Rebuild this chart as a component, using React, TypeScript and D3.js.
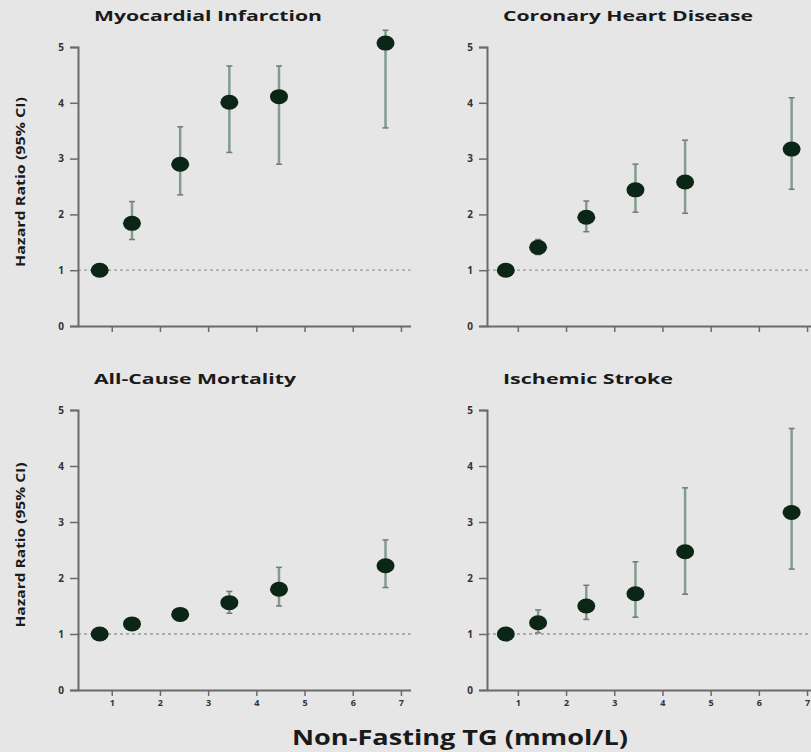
import React, { useRef, useEffect } from 'react';
import * as d3 from 'd3';

// triglyceride categories (x positions, mmol/L)
const tgLevels = [0.75, 1.42, 2.42, 3.44, 4.47, 6.68];

const miHR = [1, 1.84, 2.9, 4.01, 4.11, 5.07];
const miLow = [1, 1.55, 2.35, 3.11, 2.9, 3.55];
const miHigh = [1, 2.23, 3.57, 4.66, 4.66, 5.3];

const chdHR = [1, 1.41, 1.95, 2.44, 2.58, 3.17];
const chdLow = [1, 1.28, 1.69, 2.04, 2.02, 2.45];
const chdHigh = [1, 1.55, 2.24, 2.9, 3.33, 4.09];

const acmHR = [1, 1.18, 1.35, 1.56, 1.8, 2.22];
const acmLow = [1, 1.1, 1.25, 1.37, 1.5, 1.83];
const acmHigh = [1, 1.25, 1.45, 1.76, 2.19, 2.68];

const isHR = [1, 1.2, 1.5, 1.72, 2.47, 3.17];
const isLow = [1, 1.02, 1.26, 1.3, 1.71, 2.16];
const isHigh = [1, 1.43, 1.87, 2.29, 3.61, 4.67];

const yTicks = [0, 1, 2, 3, 4, 5];
const xTicks = [1, 2, 3, 4, 5, 6, 7];

const panels = [
  { title: 'Myocardial Infarction', hr: miHR, lo: miLow, hi: miHigh, col: 0, row: 0, tw: 228 },
  { title: 'Coronary Heart Disease', hr: chdHR, lo: chdLow, hi: chdHigh, col: 1, row: 0, tw: 250 },
  { title: 'All-Cause Mortality', hr: acmHR, lo: acmLow, hi: acmHigh, col: 0, row: 1, tw: 202 },
  { title: 'Ischemic Stroke', hr: isHR, lo: isLow, hi: isHigh, col: 1, row: 1, tw: 170 },
];

const App = () => {
  const ref = useRef<SVGSVGElement>(null);

  useEffect(() => {
    var svg = d3.select(ref.current);
    svg.selectAll('*').remove();

    svg.append('rect').attr('width', 811).attr('height', 752).attr('fill', '#e6e6e6');

    var font = '"Open Sans", "Noto Sans", sans-serif';
    var colLeft = [78, 487];
    var colStart = [0.3, 0.36];
    var rowTop = [47, 410];
    var rowBottom = [326, 690];

    panels.forEach((p) => {
      var left = colLeft[p.col];
      var x0 = colStart[p.col];
      var x = d3.scaleLinear().domain([x0, 7.2]).range([left, left + (7.2 - x0) * 48.2]);
      var y = d3.scaleLinear().domain([0, 5]).range([rowBottom[p.row], rowTop[p.row]]);
      var g = svg.append('g');

      // reference line at HR = 1
      g.append('line')
        .attr('x1', x(x0)).attr('x2', x(7.2))
        .attr('y1', y(1)).attr('y2', y(1))
        .attr('stroke', '#999').attr('stroke-width', 1.3)
        .attr('stroke-dasharray', '3,3');

      var yAxis = g.append('g')
        .attr('transform', 'translate(' + left + ',0)')
        .call(d3.axisLeft(y).tickValues(yTicks).tickSize(8).tickPadding(6).tickFormat(d3.format('d')));
      yAxis.select('.domain').attr('stroke', '#6a6a6a').attr('stroke-width', 2);
      yAxis.selectAll('.tick line').attr('stroke', '#6a6a6a').attr('stroke-width', 1.5);
      yAxis.selectAll('text').attr('font-family', font).attr('font-weight', 'bold')
        .attr('font-size', 10).attr('fill', '#333');

      var xAxis = g.append('g')
        .attr('transform', 'translate(0,' + y(0) + ')')
        .call(d3.axisBottom(x).tickValues(xTicks).tickSize(6).tickPadding(4).tickSizeOuter(0).tickFormat(d3.format('d')));
      xAxis.select('.domain').attr('stroke', '#6a6a6a').attr('stroke-width', 2);
      xAxis.selectAll('.tick line').attr('stroke', '#6a6a6a').attr('stroke-width', 1.5);
      xAxis.selectAll('text').attr('font-family', font).attr('font-weight', 'bold')
        .attr('font-size', 9).attr('fill', '#333')
        .style('display', p.row === 0 ? 'none' : null);

      // confidence intervals
      var bars = g.selectAll('g.ci').data(tgLevels.slice(1)).enter().append('g').attr('class', 'ci');
      bars.append('line')
        .attr('x1', (d) => x(d)).attr('x2', (d) => x(d))
        .attr('y1', (d, i) => y(p.lo[i + 1])).attr('y2', (d, i) => y(p.hi[i + 1]))
        .attr('stroke', '#829c8f').attr('stroke-width', 2.5);
      bars.append('line')
        .attr('x1', (d) => x(d) - 3).attr('x2', (d) => x(d) + 3)
        .attr('y1', (d, i) => y(p.hi[i + 1])).attr('y2', (d, i) => y(p.hi[i + 1]))
        .attr('stroke', '#777').attr('stroke-width', 1.5);
      bars.append('line')
        .attr('x1', (d) => x(d) - 3).attr('x2', (d) => x(d) + 3)
        .attr('y1', (d, i) => y(p.lo[i + 1])).attr('y2', (d, i) => y(p.lo[i + 1]))
        .attr('stroke', '#777').attr('stroke-width', 1.5);

      g.selectAll('ellipse').data(tgLevels).enter().append('ellipse')
        .attr('cx', (d) => x(d))
        .attr('cy', (d, i) => y(p.hr[i]))
        .attr('rx', 9).attr('ry', 7.5)
        .attr('fill', '#0b2616');

      g.append('text')
        .attr('x', left + 16)
        .attr('y', rowTop[p.row] - 26)
        .attr('font-family', font).attr('font-weight', 'bold')
        .attr('font-size', 14).attr('fill', '#1a1a1a')
        .attr('textLength', p.tw).attr('lengthAdjust', 'spacingAndGlyphs')
        .text(p.title);

      if (p.col === 0) {
        var cy = p.row === 0 ? 182 : 545;
        g.append('text')
          .attr('transform', 'translate(25,' + cy + ') rotate(-90)')
          .attr('text-anchor', 'middle')
          .attr('font-family', font).attr('font-weight', 'bold')
          .attr('font-size', 12.5).attr('fill', '#1a1a1a')
          .attr('textLength', p.row === 0 ? 170 : 165)
          .attr('lengthAdjust', 'spacingAndGlyphs')
          .text('Hazard Ratio (95% CI)');
      }
    });

    svg.append('text')
      .attr('x', 460).attr('y', 745)
      .attr('text-anchor', 'middle')
      .attr('font-family', font).attr('font-weight', 'bold')
      .attr('font-size', 21).attr('fill', '#1a1a1a')
      .attr('textLength', 336).attr('lengthAdjust', 'spacingAndGlyphs')
      .text('Non-Fasting TG (mmol/L)');
  }, []);

  return (
    <svg ref={ref} width={811} height={752}
      style={{ position: 'absolute', left: 0, top: 0, display: 'block' }} />
  );
};

export default App;
